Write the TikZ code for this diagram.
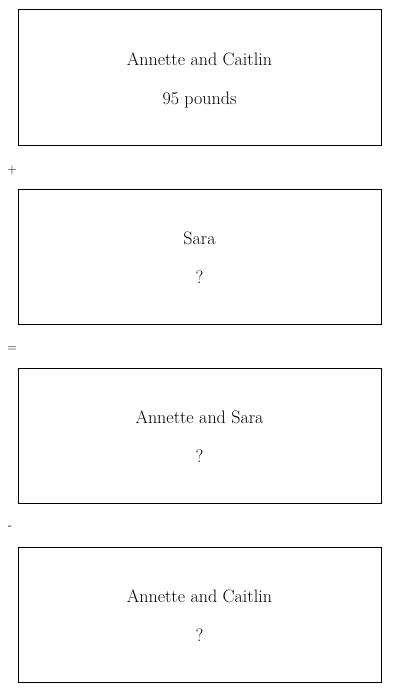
\documentclass[tikz,border=0pt]{standalone}
\usepackage{tikz}

\begin{document}
\begin{tikzpicture}[x=1pt, y=-1pt]
\tikzset{
  barbox/.style={draw, line width=1pt, minimum width=363pt, minimum height=135pt,
    inner sep=0pt, align=center, text height=60pt, text depth=7pt,
    font=\fontsize{18}{39}\selectfont},
  opsign/.style={font=\sffamily\fontsize{13}{15}\selectfont, inner sep=0pt}
}
\useasboundingbox (0,0) rectangle (400,693);

\node[barbox] (caitlin) at (199.5,77.5) {Annette and Caitlin\\95 pounds};
\node[opsign] (plus) at (12,170) {+};
\node[barbox] (sara) at (199.5,256.5) {Sara\\?};
\node[opsign] (equals) at (12,349) {=};
\node[barbox] (annsara) at (199.5,435.5) {Annette and Sara\\?};
\node[opsign] (minus) at (10,528) {-};
\node[barbox] (anncait) at (199.5,614.5) {Annette and Caitlin\\?};
\end{tikzpicture}
\end{document}
